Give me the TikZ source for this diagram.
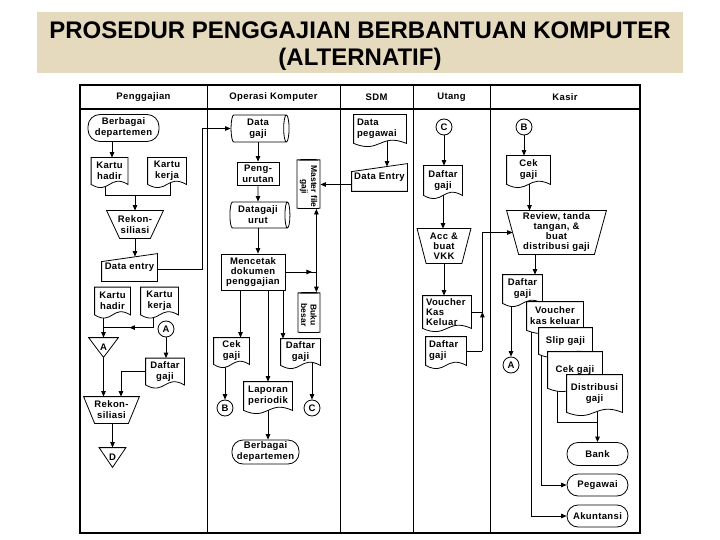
\documentclass[tikz,border=0pt]{standalone}
\usepackage{fontspec}
\setmainfont{Liberation Sans}
\newfontfamily\lblfont{Liberation Sans}[LetterSpace=4]
\usepackage{graphicx}
\usetikzlibrary{shapes.geometric,arrows.meta,calc,backgrounds,decorations.markings}
\definecolor{titlebg}{RGB}{230,218,190}

\makeatletter
\newdimen\shXa \newdimen\shYa \newdimen\shXb \newdimen\shYb \newdimen\shXc
\def\docamp{11pt}
\def\shinsetval{8pt}
% document symbol
\pgfdeclareshape{docu}{%
  \inheritsavedanchors[from=rectangle]%
  \inheritanchorborder[from=rectangle]%
  \inheritanchor[from=rectangle]{center}%
  \inheritanchor[from=rectangle]{north}%
  \inheritanchor[from=rectangle]{south}%
  \inheritanchor[from=rectangle]{east}%
  \inheritanchor[from=rectangle]{west}%
  \inheritanchor[from=rectangle]{north east}%
  \inheritanchor[from=rectangle]{north west}%
  \inheritanchor[from=rectangle]{south east}%
  \inheritanchor[from=rectangle]{south west}%
  \inheritanchor[from=rectangle]{text}%
  \inheritanchor[from=rectangle]{base}%
  \inheritanchor[from=rectangle]{mid}%
  \backgroundpath{%
    \southwest \shXa=\pgf@x \shYa=\pgf@y
    \northeast \shXb=\pgf@x \shYb=\pgf@y
    \shXc=.5\shXa \advance\shXc by .5\shXb
    \pgfpathmoveto{\pgfqpoint{\shXa}{\shYb}}%
    \pgfpathlineto{\pgfqpoint{\shXb}{\shYb}}%
    \pgfpathlineto{\pgfqpoint{\shXb}{\shYa}}%
    \pgfpathcurveto{\pgfpoint{\shXc}{\shYa+\docamp}}{\pgfpoint{\shXc}{\shYa-\docamp}}{\pgfqpoint{\shXa}{\shYa}}%
    \pgfpathclose
  }%
}
% manual operation (inverted trapezoid)
\pgfdeclareshape{manop}{%
  \inheritsavedanchors[from=rectangle]%
  \inheritanchorborder[from=rectangle]%
  \inheritanchor[from=rectangle]{center}%
  \inheritanchor[from=rectangle]{north}%
  \inheritanchor[from=rectangle]{south}%
  \inheritanchor[from=rectangle]{east}%
  \inheritanchor[from=rectangle]{west}%
  \inheritanchor[from=rectangle]{north east}%
  \inheritanchor[from=rectangle]{north west}%
  \inheritanchor[from=rectangle]{south east}%
  \inheritanchor[from=rectangle]{south west}%
  \inheritanchor[from=rectangle]{text}%
  \inheritanchor[from=rectangle]{base}%
  \inheritanchor[from=rectangle]{mid}%
  \backgroundpath{%
    \southwest \shXa=\pgf@x \shYa=\pgf@y
    \northeast \shXb=\pgf@x \shYb=\pgf@y
    \pgfpathmoveto{\pgfqpoint{\shXa}{\shYb}}%
    \pgfpathlineto{\pgfqpoint{\shXb}{\shYb}}%
    \pgfpathlineto{\pgfpoint{\shXb-\shinsetval}{\shYa}}%
    \pgfpathlineto{\pgfpoint{\shXa+\shinsetval}{\shYa}}%
    \pgfpathclose
  }%
}
% manual input (slanted top)
\pgfdeclareshape{manin}{%
  \inheritsavedanchors[from=rectangle]%
  \inheritanchorborder[from=rectangle]%
  \inheritanchor[from=rectangle]{center}%
  \inheritanchor[from=rectangle]{north}%
  \inheritanchor[from=rectangle]{south}%
  \inheritanchor[from=rectangle]{east}%
  \inheritanchor[from=rectangle]{west}%
  \inheritanchor[from=rectangle]{north east}%
  \inheritanchor[from=rectangle]{north west}%
  \inheritanchor[from=rectangle]{south east}%
  \inheritanchor[from=rectangle]{south west}%
  \inheritanchor[from=rectangle]{text}%
  \inheritanchor[from=rectangle]{base}%
  \inheritanchor[from=rectangle]{mid}%
  \backgroundpath{%
    \southwest \shXa=\pgf@x \shYa=\pgf@y
    \northeast \shXb=\pgf@x \shYb=\pgf@y
    \pgfpathmoveto{\pgfqpoint{\shXa}{\shYa}}%
    \pgfpathlineto{\pgfqpoint{\shXb}{\shYa}}%
    \pgfpathlineto{\pgfqpoint{\shXb}{\shYb}}%
    \pgfpathlineto{\pgfpoint{\shXa}{\shYb-\shinsetval}}%
    \pgfpathclose
  }%
}
% off-line storage (inverted triangle)
\pgfdeclareshape{offtri}{%
  \inheritsavedanchors[from=rectangle]%
  \inheritanchorborder[from=rectangle]%
  \inheritanchor[from=rectangle]{center}%
  \inheritanchor[from=rectangle]{north}%
  \inheritanchor[from=rectangle]{south}%
  \inheritanchor[from=rectangle]{east}%
  \inheritanchor[from=rectangle]{west}%
  \inheritanchor[from=rectangle]{north east}%
  \inheritanchor[from=rectangle]{north west}%
  \inheritanchor[from=rectangle]{south east}%
  \inheritanchor[from=rectangle]{south west}%
  \inheritanchor[from=rectangle]{text}%
  \inheritanchor[from=rectangle]{base}%
  \inheritanchor[from=rectangle]{mid}%
  \backgroundpath{%
    \southwest \shXa=\pgf@x \shYa=\pgf@y
    \northeast \shXb=\pgf@x \shYb=\pgf@y
    \shXc=.5\shXa \advance\shXc by .5\shXb
    \pgfpathmoveto{\pgfqpoint{\shXa}{\shYb}}%
    \pgfpathlineto{\pgfqpoint{\shXb}{\shYb}}%
    \pgfpathlineto{\pgfqpoint{\shXc}{\shYa}}%
    \pgfpathclose
  }%
}
\makeatother

\tikzset{
  shinset/.code={\def\shinsetval{#1}},
  lbl/.style={font=\lblfont\bfseries\fontsize{9.5}{11}\selectfont},
  lblten/.style={font=\lblfont\bfseries\fontsize{9.5}{10}\selectfont},
  lblrot/.style={font=\bfseries\fontsize{8.5}{9.5}\selectfont, align=center, inner sep=0pt, rotate=-90},
  nbase/.style={draw, line width=0.8pt, fill=white, inner sep=1pt, align=center, lbl},
  docn/.style={nbase, shape=docu},
  procn/.style={nbase, rectangle},
  termn/.style={nbase, rectangle, rounded corners=#1},
  mop/.style={nbase, shape=manop, shinset=#1},
  minp/.style={nbase, shape=manin, shinset=#1},
  tri/.style={nbase, shape=offtri},
  cyl/.style={nbase, cylinder, shape aspect=#1},
  conn/.style={nbase, circle, minimum size=16pt, inner sep=0pt},
  sz/.style 2 args={minimum width=#1pt, minimum height=#2pt},
  hsz/.style 2 args={minimum height=#1pt, minimum width=#2pt},
  ln/.style={line width=0.8pt},
  arr/.style={ln, -{Triangle[length=5.5pt,width=4.5pt]}},
  midarr/.style={postaction={decorate, decoration={markings, mark=at position #1 with {\arrow{Triangle[length=5.5pt,width=4.5pt]}}}}},
  framel/.style={line width=1.4pt},
  hdr/.style={lbl, inner sep=0pt},
}

\begin{document}
\begin{tikzpicture}[x=1pt,y=-1pt]
\useasboundingbox (0,0) rectangle (720,540);
% title band
\fill[titlebg] (37,12) rectangle (683,73);
\node[font=\bfseries\fontsize{24}{27}\selectfont, align=center, inner sep=0pt] (title) at (360,46.5) {PROSEDUR PENGGAJIAN BERBANTUAN KOMPUTER\\(ALTERNATIF)};

% frame
\draw[framel] (80,85) rectangle (640,533);
\draw[line width=1.1pt] (80,109) -- (640,109);
\foreach \x in {207,340,413,490} \draw[line width=1pt] (\x,85) -- (\x,533);

\node[hdr] (h1) at (143.5,97) {Penggajian};
\node[hdr] (h2) at (273.5,97) {Operasi Komputer};
\node[hdr] (h3) at (376.5,97) {SDM};
\node[hdr] (h4) at (451.5,97) {Utang};
\node[hdr] (h5) at (565,97) {Kasir};

% ---- Penggajian
\node[termn=12pt, sz={71}{27}] (dep1) at (123.5,128) {Berbagai\\departemen};
\node[docn, sz={36}{26}] (kh1) at (109.5,171) {Kartu\\hadir};
\node[docn, sz={38}{26}] (kk1) at (167,171) {Kartu\\kerja};
\node[mop=13pt, sz={56}{27}] (rek1) at (135,224.5) {Rekon-\\siliasi};
\node[minp=8pt, sz={55}{27}] (de1) at (129.5,267.5) {Data entry};
\node[docn, sz={35}{27}] (kh2) at (112.5,301) {Kartu\\hadir};
\node[docn, sz={37}{27}] (kk2) at (159.5,301) {Kartu\\kerja};
\node[conn] (cA) at (166,329) {A};
\node[tri, sz={29}{19}] (triA) at (103.5,347.5) {A};
\node[docn, sz={38}{26}] (dg1) at (165,371.5) {Daftar\\gaji};
\node[mop=11pt, sz={55}{26}] (rek2) at (111.5,410) {Rekon-\\siliasi};
\node[tri, sz={26}{19}] (triD) at (112.5,457.5) {D};

% ---- Operasi Komputer
\node[cyl=0.25, hsz={58}{27}] (dgaji) at (258,128.5) {Data\\gaji};
\node[procn, sz={42}{23}] (urut) at (258,173.5) {Peng-\\urutan};
\node[cyl=0.25, hsz={60}{26}] (dgurut) at (258,215) {Datagaji\\urut};
\node[procn, sz={64}{36}, lblten] (cetak) at (253,272) {Mencetak\\dokumen\\penggajian};
\node[cyl=0.35, shape border rotate=90, sz={23}{49}] (mf) at (308.5,184.5) {};
\node[lblrot] (mft) at ($(mf.center)+(0,2)$) {Master file\\gaji};
\node[cyl=0.35, shape border rotate=90, sz={22}{40}] (bb) at (309,313) {};
\node[lblrot] (bbt) at ($(bb.center)+(0,2)$) {Buku\\besar};
\node[docn, sz={35}{26}] (cek1) at (231.5,351) {Cek\\gaji};
\node[docn, sz={39}{26}] (dg2) at (300.5,352) {Daftar\\gaji};
\node[docn, sz={48}{28}] (lap) at (268,396) {Laporan\\periodik};
\node[conn] (cB) at (225,408) {B};
\node[conn] (cC) at (312,408) {C};
\node[termn=11pt, sz={67}{24}] (dep2) at (265.5,452) {Berbagai\\departemen};

% ---- SDM
\node[docn, sz={52}{28}, align=left, text width=46pt] (dp) at (380,129) {Data\\pegawai};
\node[minp=8pt, sz={55}{27}] (de2) at (379.5,177.5) {Data Entry};

% ---- Utang
\node[conn] (cC2) at (444,127) {C};
\node[docn, sz={38}{29}] (dgU) at (443,180.5) {Daftar\\gaji};
\node[mop=9pt, sz={53}{34}, lblten] (acc) at (444,246) {Acc \&\\buat\\VKK};
\node[docn, sz={48}{32}, lblten, align=left, text width=42pt] (vkk) at (447,312) {Voucher\\Kas\\Keluar};
\node[docn, sz={40}{28}, align=left, text width=34pt] (dgU2) at (446,351) {Daftar\\gaji};

% ---- Kasir
\node[conn] (cB2) at (524,127) {B};
\node[docn, sz={43}{28}] (cekK) at (528.5,170) {Cek\\gaji};
\node[mop=12pt, sz={99}{43}, lblten] (rev) at (556.5,232.5) {Review, tanda\\tangan, \&\\buat\\distribusi gaji};
\node[docn, sz={39}{28}] (dgK) at (522.5,289) {Daftar\\gaji};
\node[docn, sz={56}{28}] (vkK) at (555,316) {Voucher\\kas keluar};
\node[docn, sz={53}{26}] (slip) at (565.5,341) {Slip gaji};
\node[docn, sz={54}{36}] (cekK2) at (575,370) {Cek gaji};
\node[docn, sz={55}{37}] (dist) at (594.5,393.5) {Distribusi\\gaji};
\node[conn] (cA2) at (511,365) {A};
\node[termn=11pt, sz={61}{23}] (bank) at (597.5,454) {Bank};
\node[termn=11pt, sz={61}{22}] (peg) at (597.5,485) {Pegawai};
\node[termn=11pt, sz={61}{22}] (akun) at (597.5,516) {Akuntansi};

% helper coordinates
\coordinate (p1) at ($(dep1.center)+(-11.5,0)$);
\coordinate (p2) at ($(kh1.center)+(-4.5,0)$);
\coordinate (p3) at ($(kk1.center)+(3,0)$);
\coordinate (p4) at ($(kk2.center)+(-6.5,0)$);
\coordinate (p5) at ($(rek2.north)+(9.5,0)$);
\coordinate (c1) at ($(cetak.center)+(-12.5,0)$);
\coordinate (c2) at ($(cetak.center)+(15,0)$);
\coordinate (c3) at ($(cetak.center)+(30,0)$);
\coordinate (J) at ($(cetak.east)+(31,0)$);
\coordinate (s1) at ($(dp.center)+(7,0)$);
\coordinate (u1) at ($(dgU2.east)+(16,0)$);
\coordinate (k1) at ($(cekK.center)+(1,0)$);
\coordinate (k2) at ($(rev.center)+(-21.5,0)$);
\coordinate (k3) at ($(vkK.center)+(-24,0)$);
\coordinate (k4) at ($(slip.center)+(-24.5,0)$);
\coordinate (k5) at ($(cekK2.center)+(-18,0)$);

\begin{pgfonlayer}{background}
% Penggajian
\draw[arr] (p1) -- (p1 |- kh1.north);
\draw[ln] (p2) |- ($(p3)+(0,24)$) -- (p3);
\draw[arr] ($(rek1.north)+(0,-16)$) -- (rek1.north);
\draw[arr] (rek1.center) -- ($(rek1.center |- de1.north)+(0,3)$);
\draw[arr] ($(de1.center)+(0,2)$) -| ($(dgaji.west)+(-28,0)$) -- (dgaji.west);
\draw[arr] (triA.north |- kh2.center) -- (triA.north);
\draw[ln, midarr=0.66] (p4) |- ($(triA.north)+(0,-10)$);
\draw[arr] (cA.south) -- (cA.south |- dg1.north);
\draw[arr] (triA.center) -- (triA.center |- rek2.north);
\draw[arr] (dg1.center) -| (p5);
\draw[arr] (triD.north |- rek2.center) -- (triD.north);
% Operasi
\draw[arr] (dgaji.center) -- (urut.north);
\draw[arr] (urut.center) -- (dgurut.north);
\draw[arr] (dgurut.center) -- (dgurut.center |- cetak.north);
\draw[ln, midarr=0.93] (cetak.center) -- (J);
\draw[arr] (J) -- (J |- mf.south);
\draw[arr] (J) -- (J |- bb.north);
\draw[arr] (de2.center |- mf.east) -- (mf.east);
\draw[arr] (c1) -- (c1 |- cek1.north);
\draw[arr] (c2) -- (c2 |- lap.north);
\draw[arr] (c3) -- (c3 |- dg2.north);
\draw[arr] (cB |- cek1.center) -- (cB.north);
\draw[arr] (cC |- dg2.center) -- (cC.north);
\draw[arr] (lap.center) -- (lap.center |- dep2.north);
% SDM
\draw[arr] (s1) -- ($(s1 |- de2.north)+(0,3)$);
% Utang
\draw[arr] (cC2.south) -- (cC2.south |- dgU.north);
\draw[arr] (dgU.center) -- (dgU.center |- acc.north);
\draw[arr] (acc.center) -- (acc.center |- vkk.north);
\draw[ln] (dgU2.center) -- (u1);
\draw[ln] (vkk.center) -- (vkk.center -| u1);
\draw[ln, midarr=0.33] (u1) -- (u1 |- rev.west);
\draw[arr] (u1 |- rev.west) -- ($(rev.west)+(6,0)$);
% Kasir
\draw[arr] (cB2.south) -- (cB2.south |- cekK.north);
\draw[arr] (k1) -- (k1 |- rev.north);
\draw[arr] (k2) -- (k2 |- dgK.north);
\draw[arr] (cA2 |- dgK.center) -- (cA2.north);
\draw[arr] (k3) |- (akun.west);
\draw[arr] (k4) |- (peg.west);
\draw[ln] (k5) |- ($(bank.north)+(0,-20)$);
\draw[arr] (bank.north |- dist.center) -- (bank.north);
\end{pgfonlayer}
\end{tikzpicture}
\end{document}
